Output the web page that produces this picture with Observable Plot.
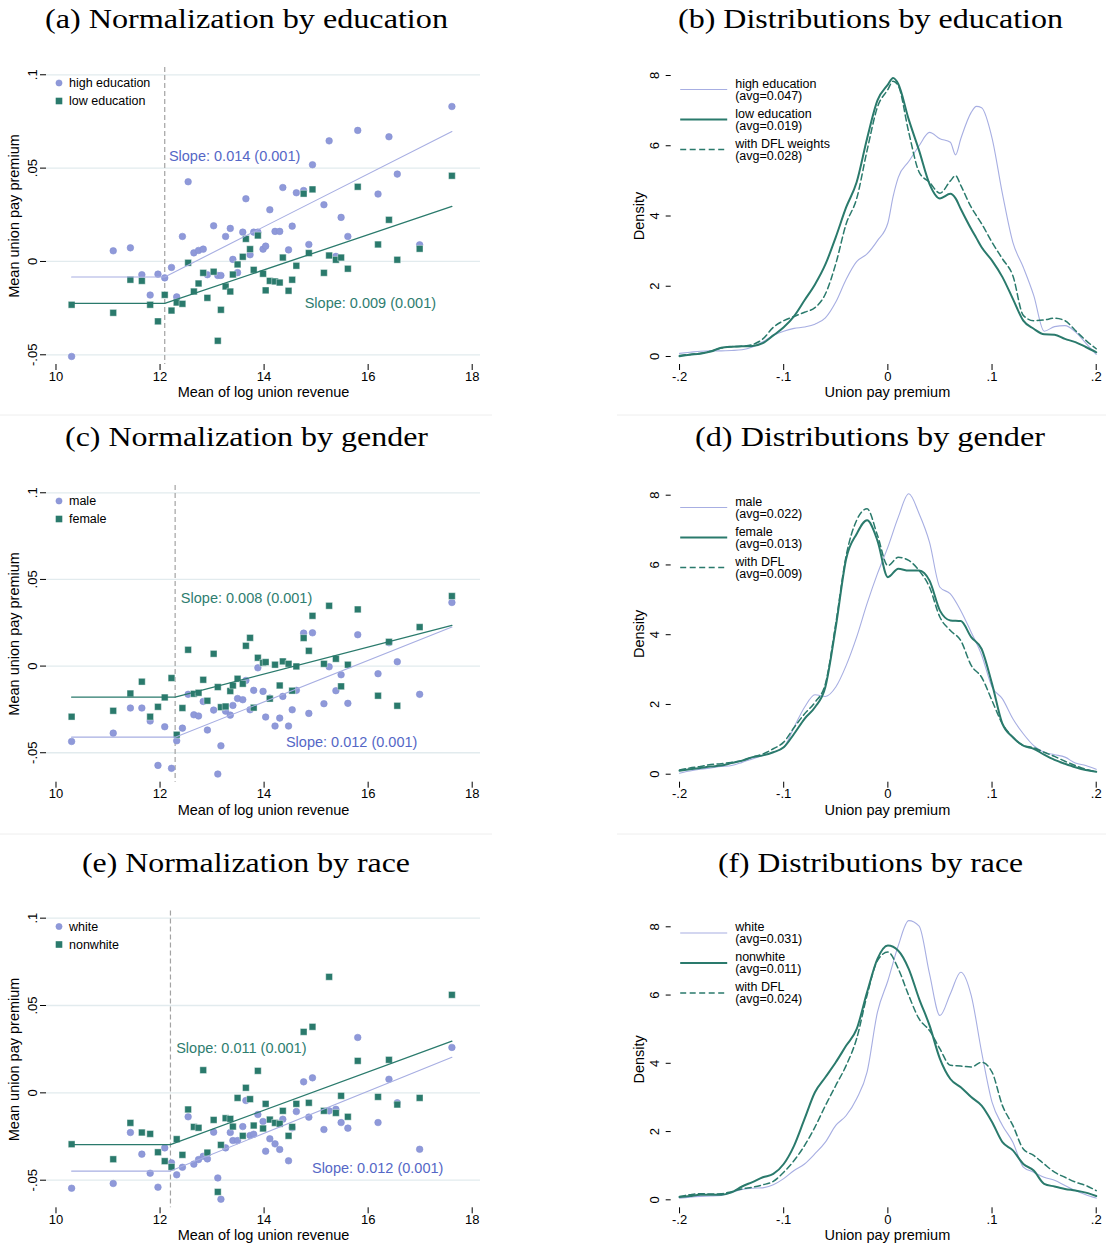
<!DOCTYPE html>
<html><head><meta charset="utf-8">
<script src="https://cdn.jsdelivr.net/npm/d3@7"></script>
<script src="https://cdn.jsdelivr.net/npm/@observablehq/plot@0.6"></script>
<style>
body{margin:0;background:#fff;}
#root{position:relative;width:1106px;height:1247px;overflow:hidden;background:#fff;font-family:"Liberation Sans",Arial,sans-serif;}
#root svg.panel{position:absolute;}
</style></head><body><div id="root"></div>
<script>
// ---------------- DATA ----------------
const titleTexts = ["(a) Normalization by education","(b) Distributions by education","(c) Normalization by gender","(d) Distributions by gender","(e) Normalization by race","(f) Distributions by race"];

const unionRevenue = [10.30,11.10,11.43,11.65,11.81,11.96,12.09,12.22,12.32,12.43,12.54,12.65,12.74,12.83,12.91,13.03,13.11,13.17,13.26,13.35,13.40,13.49,13.59,13.65,13.73,13.80,13.88,13.98,14.03,14.11,14.21,14.30,14.36,14.47,14.54,14.62,14.76,14.86,14.93,15.15,15.25,15.38,15.48,15.61,15.80,16.19,16.40,16.56,16.99,17.61];

const premHighEd = [-0.0509,0.0057,0.0073,-0.0071,-0.0180,-0.0068,-0.0088,-0.0032,-0.0190,0.0134,0.0427,0.0046,0.0059,0.0066,-0.0071,0.0191,-0.0075,-0.0075,0.0134,0.0177,0.0011,-0.0060,0.0157,0.0336,0.0036,0.0157,0.0157,0.0066,0.0082,0.0277,0.0161,0.0161,0.0396,0.0062,0.0189,0.0368,0.0380,0.0091,0.0518,0.0304,0.0646,0.0027,0.0236,0.0134,0.0702,0.0361,0.0668,0.0468,0.0089,0.0830];
const premLowEd = [-0.0232,-0.0275,-0.0098,-0.0104,-0.0232,-0.0321,-0.0179,-0.0263,-0.0220,-0.0227,-0.0007,-0.0161,-0.0118,-0.0061,-0.0195,-0.0055,-0.0425,-0.0259,-0.0134,-0.0161,-0.0070,-0.0016,0.0025,0.0121,0.0066,-0.0045,0.0139,-0.0066,-0.0155,-0.0104,-0.0107,-0.0113,0.0021,-0.0157,-0.0098,-0.0023,0.0363,0.0045,0.0386,-0.0061,0.0032,0.0009,0.0021,-0.0039,0.0400,0.0091,0.0223,0.0009,0.0068,0.0459];
const premMale = [-0.0435,-0.0387,-0.0242,-0.0242,-0.0317,-0.0573,-0.0350,-0.0590,-0.0431,-0.0358,-0.0163,-0.0281,-0.0288,-0.0204,-0.0369,-0.0254,-0.0623,-0.0460,-0.0260,-0.0283,-0.0227,-0.0187,-0.0194,-0.0083,-0.0252,-0.0140,-0.0010,-0.0146,-0.0294,-0.0185,-0.0346,-0.0300,-0.0175,-0.0346,-0.0252,-0.0140,0.0190,-0.0273,0.0192,-0.0217,-0.0004,-0.0142,-0.0050,-0.0215,0.0181,-0.0044,0.0135,0.0025,-0.0163,0.0367];
const premFemale = [-0.0292,-0.0258,-0.0158,-0.0090,-0.0292,-0.0235,-0.0181,-0.0069,-0.0396,-0.0242,0.0094,-0.0160,-0.0154,-0.0079,-0.0200,0.0071,-0.0121,-0.0237,-0.0233,-0.0144,-0.0112,-0.0073,-0.0102,0.0117,0.0163,-0.0240,0.0048,0.0019,0.0023,-0.0188,0.0008,-0.0112,0.0027,0.0013,-0.0142,-0.0002,0.0162,0.0088,0.0290,0.0013,0.0348,0.0042,-0.0117,0.0008,0.0327,-0.0171,0.0140,-0.0229,0.0225,0.0404];
const premWhite = [-0.0546,-0.0519,-0.0227,-0.0351,-0.0460,-0.0540,-0.0315,-0.0401,-0.0469,-0.0426,-0.0137,-0.0408,-0.0382,-0.0363,-0.0378,-0.0225,-0.0487,-0.0609,-0.0315,-0.0227,-0.0273,-0.0273,-0.0193,-0.0044,-0.0244,-0.0237,-0.0124,-0.0164,-0.0334,-0.0263,-0.0292,-0.0324,-0.0151,-0.0389,-0.0200,-0.0107,0.0063,-0.0139,0.0086,-0.0210,-0.0103,-0.0094,-0.0170,-0.0202,0.0317,-0.0170,0.0078,-0.0057,-0.0323,0.0260];
const premNonwhite = [-0.0294,-0.0380,-0.0172,-0.0227,-0.0235,-0.0340,-0.0391,-0.0424,-0.0265,-0.0355,-0.0095,-0.0195,-0.0200,0.0130,-0.0342,-0.0155,-0.0567,-0.0298,-0.0145,-0.0149,-0.0193,-0.0029,-0.0246,0.0029,-0.0036,-0.0187,0.0126,-0.0204,-0.0063,-0.0153,-0.0172,-0.0177,-0.0103,-0.0246,-0.0195,-0.0063,0.0349,-0.0057,0.0378,-0.0103,0.0664,-0.0115,-0.0017,-0.0137,0.0183,-0.0023,0.0189,-0.0067,-0.0029,0.0561];

// fitted lines: flat value below cutoff, value at the largest union
const fitEnds = [10.30, 17.61];
const cutoffs = [12.09, 12.29, 12.20];
const fitHighEd = [-0.0083, 0.0696];
const fitLowEd = [-0.0225, 0.0295];
const fitMale = [-0.0410, 0.0225];
const fitFemale = [-0.0179, 0.0235];
const fitWhite = [-0.0448, 0.0204];
const fitNonwhite = [-0.0296, 0.0296];

const slopeTexts = ["Slope: 0.014 (0.001)","Slope: 0.009 (0.001)","Slope: 0.008 (0.001)","Slope: 0.012 (0.001)","Slope: 0.011 (0.001)","Slope: 0.012 (0.001)"];
const scatterLegends = [["high education","low education"],["male","female"],["white","nonwhite"]];

const scatterXTicks = [10,12,14,16,18];
const scatterYTicks = [-0.05,0,0.05,0.1];
const scatterYLabels = ["-.05","0",".05",".1"];
const densXTicks = [-0.2,-0.1,0,0.1,0.2];
const densXLabels = ["-.2","-.1","0",".1",".2"];
const densYTicks = [0,2,4,6,8];

// kernel densities of union pay premium
const densityGridB = [-0.2,-0.19,-0.18,-0.17,-0.16,-0.15,-0.14,-0.13,-0.12,-0.11,-0.1,-0.09,-0.08,-0.07,-0.06,-0.05,-0.04,-0.03,-0.02,-0.01,0,0.005,0.01,0.02,0.03,0.04,0.05,0.06,0.065,0.07,0.08,0.085,0.09,0.1,0.11,0.12,0.13,0.14,0.15,0.16,0.17,0.18,0.19,0.2];
const densHighEd = [0.09,0.12,0.15,0.16,0.16,0.17,0.19,0.27,0.42,0.60,0.72,0.80,0.84,0.92,1.10,1.55,2.20,2.70,2.92,3.30,3.80,4.55,5.10,5.55,6.00,6.38,6.20,6.10,5.74,6.20,6.95,7.12,7.08,6.22,4.63,3.25,2.54,1.74,0.72,0.85,0.88,0.70,0.38,0.06];
const densLowEd = [0.01,0.05,0.08,0.14,0.25,0.28,0.29,0.30,0.38,0.60,0.83,1.15,1.60,2.05,2.62,3.40,4.25,4.96,6.20,7.29,7.74,7.93,7.76,6.75,5.86,4.91,4.50,4.63,4.50,4.20,3.63,3.37,3.11,2.73,2.26,1.64,1.02,0.79,0.63,0.62,0.50,0.41,0.27,0.12];
const densDflEd = [0.03,0.06,0.09,0.15,0.24,0.28,0.29,0.34,0.50,0.83,1.02,1.14,1.26,1.39,1.78,2.64,3.78,4.49,5.86,7.10,7.60,7.84,7.71,6.39,5.25,4.96,4.65,5.00,5.15,4.87,4.25,4.01,3.78,3.25,2.78,2.30,1.17,1.02,1.04,1.09,1.02,0.74,0.46,0.22];

const densityGrid = [-0.2,-0.19,-0.18,-0.17,-0.16,-0.15,-0.14,-0.13,-0.12,-0.11,-0.1,-0.09,-0.08,-0.07,-0.06,-0.05,-0.04,-0.03,-0.02,-0.01,0,0.01,0.02,0.03,0.04,0.05,0.06,0.07,0.08,0.09,0.1,0.11,0.12,0.13,0.14,0.15,0.16,0.17,0.18,0.19,0.2];
const densMale = [0.03,0.09,0.14,0.18,0.22,0.25,0.34,0.44,0.54,0.63,0.77,1.35,1.92,2.28,2.23,2.50,3.12,3.93,4.89,5.75,6.51,7.37,8.04,7.47,6.65,5.36,5.17,4.69,4.07,3.42,2.50,2.16,1.59,1.16,0.82,0.63,0.56,0.49,0.32,0.25,0.14];
const densFemale = [0.10,0.14,0.18,0.22,0.25,0.32,0.39,0.49,0.54,0.63,0.77,1.16,1.59,1.92,2.50,4.22,6.18,6.89,7.28,6.70,5.65,5.89,5.84,5.84,5.55,4.69,4.41,4.39,3.93,3.59,2.59,1.44,1.06,0.82,0.73,0.56,0.41,0.30,0.20,0.12,0.07];
const densDflGender = [0.12,0.18,0.22,0.28,0.30,0.34,0.39,0.49,0.58,0.73,0.92,1.34,1.73,2.06,2.59,4.32,6.27,7.28,7.61,6.85,5.98,6.22,6.13,5.84,5.36,4.50,4.12,3.83,3.12,2.78,2.11,1.44,1.06,0.82,0.76,0.63,0.51,0.37,0.25,0.14,0.07];
const densWhite = [0.05,0.08,0.10,0.11,0.13,0.22,0.30,0.34,0.35,0.44,0.62,0.86,1.05,1.35,1.69,2.18,2.47,2.96,3.74,5.50,6.42,7.45,8.18,8.02,6.62,5.40,6.04,6.67,5.99,4.33,2.86,2.18,1.69,0.96,0.81,0.66,0.57,0.42,0.27,0.15,0.05];
const densNonwhite = [0.08,0.11,0.15,0.15,0.15,0.22,0.39,0.52,0.66,0.76,1.05,1.59,2.37,3.15,3.59,4.03,4.52,5.00,6.08,7.06,7.45,7.30,6.77,5.89,5.11,4.13,3.54,3.30,3.01,2.76,2.28,1.69,1.45,1.05,0.86,0.47,0.39,0.32,0.27,0.21,0.11];
const densDflRace = [0.10,0.15,0.18,0.17,0.18,0.24,0.32,0.37,0.44,0.54,0.81,1.15,1.59,2.13,2.76,3.35,3.94,4.72,5.99,7.01,7.26,6.77,5.99,5.30,4.96,4.42,3.94,3.92,3.89,4.03,3.74,2.76,2.18,1.49,1.30,1.05,0.81,0.66,0.52,0.42,0.27];

const legendEdu = [["high education","(avg=0.047)"],["low education","(avg=0.019)"],["with DFL weights","(avg=0.028)"]];
const legendGender = [["male","(avg=0.022)"],["female","(avg=0.013)"],["with DFL","(avg=0.009)"]];
const legendRace = [["white","(avg=0.031)"],["nonwhite","(avg=0.011)"],["with DFL","(avg=0.024)"]];

// ---------------- STYLE ----------------
const LIGHT = "#8f99d9", LIGHTEDGE = "#8490d3", TEAL = "#2a7a6c", LIGHTLINE = "#a7aee2";
const BLUETEXT = "#5567c6", TEALTEXT = "#2e7d6f";
const SANS = "'Liberation Sans', Arial, sans-serif";
const rows = [
  {top: 40, height: 380, mt: 27, mb: 56},
  {top: 460, height: 380, mt: 25, mb: 58.3},
  {top: 885, height: 362, mt: 25.5, mb: 39.7}
];
const root = document.getElementById("root");

function place(svg, left, top) {
  svg.classList.add("panel");
  svg.style.left = left + "px";
  svg.style.top = top + "px";
  root.appendChild(svg);
}

function scatterPanel(r, yDomain, serA, serB, fitA, fitB, cut, legend, slopeA, slopeB, posA, posB) {
  const row = rows[r];
  const fitPts = f => [[fitEnds[0], f[0]], [cut, f[0]], [fitEnds[1], f[1]]];
  const svg = Plot.plot({
    width: 490, height: row.height,
    marginLeft: 46, marginRight: 10, marginTop: row.mt, marginBottom: row.mb,
    x: {domain: [9.8174, 18.1595]},
    y: {domain: yDomain},
    style: {fontFamily: SANS, fontSize: "13px", color: "#000", background: "transparent", overflow: "visible"},
    marks: [
      Plot.gridY(scatterYTicks, {stroke: "#e2ebee", strokeOpacity: 1, strokeWidth: 1.3}),
      Plot.ruleX([cut], {stroke: "#a3a3a3", strokeWidth: 1.2, strokeDasharray: "5,3"}),
      Plot.axisX({ticks: scatterXTicks, tickFormat: d => String(d), tickSize: 6, tickPadding: 1, label: null, fontSize: 13, line: true}),
      Plot.axisY({ticks: scatterYTicks, tickFormat: () => "", tickSize: 6, label: null, line: true}),
      Plot.text(scatterYTicks, {y: d => d, text: (d, i) => scatterYLabels[i], frameAnchor: "left", dx: -10, rotate: -90, textAnchor: "middle", lineAnchor: "bottom", fontSize: 13}),
      Plot.text(["Mean of log union revenue"], {text: d => d, frameAnchor: "bottom", dy: 28, lineAnchor: "middle", textAnchor: "middle", fontSize: 14.5}),
      Plot.text(["Mean union pay premium"], {text: d => d, frameAnchor: "left", dx: -32, rotate: -90, lineAnchor: "middle", textAnchor: "middle", fontSize: 14.5}),
      Plot.dot(unionRevenue, {x: d => d, y: (d, i) => serA[i], r: 3.3, fill: LIGHT, stroke: LIGHTEDGE, strokeWidth: 0.6}),
      Plot.dot(unionRevenue, {x: d => d, y: (d, i) => serB[i], r: 3.8, symbol: "square", fill: TEAL, stroke: "#ffffff", strokeWidth: 0.4}),
      Plot.line(fitPts(fitA), {stroke: LIGHTLINE, strokeWidth: 1.1}),
      Plot.line(fitPts(fitB), {stroke: TEAL, strokeWidth: 1.3}),
      Plot.text([slopeA], {text: d => d, x: posA[0], y: posA[1], textAnchor: "start", fill: BLUETEXT, fontSize: 14.5}),
      Plot.text([slopeB], {text: d => d, x: posB[0], y: posB[1], textAnchor: "start", fill: TEALTEXT, fontSize: 14.5}),
      (index, scales, values, dims) => {
        const g = d3.create("svg:g").attr("font-family", SANS).attr("font-size", 12.5).attr("text-anchor", "start");
        const x0 = dims.marginLeft, y0 = dims.marginTop;
        g.append("circle").attr("cx", x0 + 13).attr("cy", y0 + 16).attr("r", 3.1).attr("fill", LIGHT).attr("stroke", LIGHTEDGE).attr("stroke-width", 0.6);
        g.append("rect").attr("x", x0 + 13 - 3.3).attr("y", y0 + 34 - 3.3).attr("width", 6.6).attr("height", 6.6).attr("fill", TEAL);
        g.append("text").attr("x", x0 + 23).attr("y", y0 + 16).attr("dy", "0.35em").text(legend[0]);
        g.append("text").attr("x", x0 + 23).attr("y", y0 + 34).attr("dy", "0.35em").text(legend[1]);
        return g.node();
      }
    ]
  });
  place(svg, 0, row.top);
}

function densityPanel(r, yDomain, grid, dLight, dSolid, dDash, legend) {
  const row = rows[r];
  const svg = Plot.plot({
    width: 486, height: row.height,
    marginLeft: 50.7, marginRight: 3, marginTop: row.mt, marginBottom: row.mb,
    x: {domain: [-0.208, 0.207]},
    y: {domain: yDomain},
    style: {fontFamily: SANS, fontSize: "13px", color: "#000", background: "transparent", overflow: "visible"},
    marks: [
      Plot.axisX({ticks: densXTicks, tickFormat: (d, i) => densXLabels[i], tickSize: 6, tickPadding: 1, label: null, fontSize: 13, line: true}),
      Plot.axisY({ticks: densYTicks, tickFormat: () => "", tickSize: 5, label: null, line: true}),
      Plot.text(densYTicks, {y: d => d, text: d => String(d), frameAnchor: "left", dx: -12.5, rotate: -90, textAnchor: "middle", lineAnchor: "bottom", fontSize: 13}),
      Plot.text(["Union pay premium"], {text: d => d, frameAnchor: "bottom", dy: 28, lineAnchor: "middle", textAnchor: "middle", fontSize: 14.5}),
      Plot.text(["Density"], {text: d => d, frameAnchor: "left", dx: -32, rotate: -90, lineAnchor: "middle", textAnchor: "middle", fontSize: 14.5}),
      Plot.line(grid, {x: d => d, y: (d, i) => dLight[i], stroke: LIGHTLINE, strokeWidth: 1.1, curve: "monotone-x"}),
      Plot.line(grid, {x: d => d, y: (d, i) => dDash[i], stroke: TEAL, strokeWidth: 1.5, strokeDasharray: "6,3.5", curve: "monotone-x"}),
      Plot.line(grid, {x: d => d, y: (d, i) => dSolid[i], stroke: TEAL, strokeWidth: 2, curve: "monotone-x"}),
      (index, scales, values, dims) => {
        const g = d3.create("svg:g").attr("font-family", SANS).attr("font-size", 12.5).attr("text-anchor", "start");
        const x0 = dims.marginLeft, y0 = dims.marginTop;
        const styles = [
          {stroke: LIGHTLINE, w: 1.1, dash: null},
          {stroke: TEAL, w: 2, dash: null},
          {stroke: TEAL, w: 1.5, dash: "6,3.5"}
        ];
        legend.forEach((lines, k) => {
          const yy = y0 + 22.5 + 30 * k;
          const ln = g.append("line").attr("x1", x0 + 9.5).attr("x2", x0 + 56.5).attr("y1", yy).attr("y2", yy)
            .attr("stroke", styles[k].stroke).attr("stroke-width", styles[k].w);
          if (styles[k].dash) ln.attr("stroke-dasharray", styles[k].dash);
          g.append("text").attr("x", x0 + 64.5).attr("y", yy - 6).attr("dy", "0.35em").text(lines[0]);
          g.append("text").attr("x", x0 + 64.5).attr("y", yy + 6).attr("dy", "0.35em").text(lines[1]);
        });
        return g.node();
      }
    ]
  });
  place(svg, 620, row.top);
}

scatterPanel(0, [-0.0552, 0.1039], premHighEd, premLowEd, fitHighEd, fitLowEd, cutoffs[0], scatterLegends[0], slopeTexts[0], slopeTexts[1], [12.17, 0.0562], [14.78, -0.0227]);
scatterPanel(1, [-0.067, 0.1042], premMale, premFemale, fitMale, fitFemale, cutoffs[1], scatterLegends[1], slopeTexts[3], slopeTexts[2], [14.42, -0.0438], [12.40, 0.0389]);
scatterPanel(2, [-0.0658, 0.1041], premWhite, premNonwhite, fitWhite, fitNonwhite, cutoffs[2], scatterLegends[2], slopeTexts[5], slopeTexts[4], [14.92, -0.0435], [12.31, 0.0252]);

densityPanel(0, [-0.228, 8.228], densityGridB, densHighEd, densLowEd, densDflEd, legendEdu);
densityPanel(1, [-0.229, 8.278], densityGrid, densMale, densFemale, densDflGender, legendGender);
densityPanel(2, [-0.234, 8.463], densityGrid, densWhite, densNonwhite, densDflRace, legendRace);

// titles and row separators
const titleLayout = [[246.5, 28, 403], [870.5, 28, 385], [246.5, 446, 363], [870, 446, 350], [246, 872, 328], [870.5, 872, 305]];
const over = d3.create("svg").attr("width", 1106).attr("height", 1247)
  .style("position", "absolute").style("left", "0px").style("top", "0px").style("pointer-events", "none");
[[415, 0, 492], [415, 617, 1106], [834, 0, 492], [834, 617, 1106]].forEach(([y, a, b]) => {
  over.append("line").attr("x1", a).attr("x2", b).attr("y1", y).attr("y2", y).attr("stroke", "#eeeeee").attr("stroke-width", 1);
});
titleTexts.forEach((t, i) => {
  const [cx, by, w] = titleLayout[i];
  over.append("text").attr("x", cx).attr("y", by).attr("text-anchor", "middle")
    .attr("font-family", "'Liberation Serif', 'Times New Roman', serif").attr("font-size", 28)
    .attr("textLength", w).attr("lengthAdjust", "spacingAndGlyphs").attr("fill", "#000").text(t);
});
root.appendChild(over.node());
</script>
</body></html>
